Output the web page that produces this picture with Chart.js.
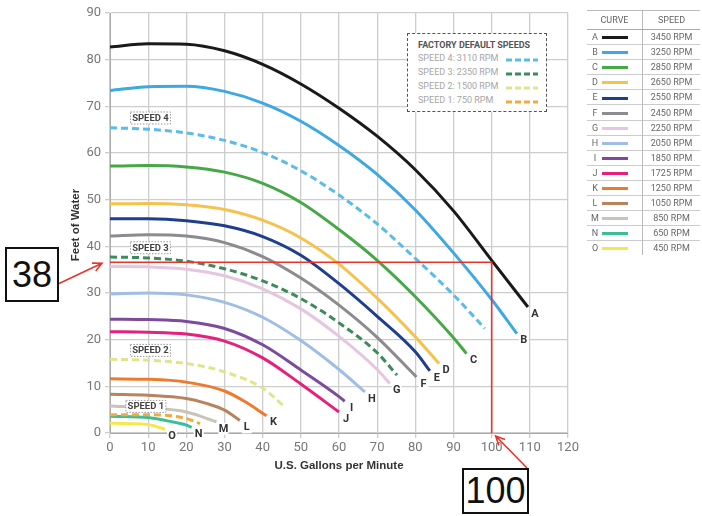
<!DOCTYPE html>
<html>
<head>
<meta charset="utf-8">
<script src="https://cdn.jsdelivr.net/npm/chart.js@4.4.1/dist/chart.umd.min.js"></script>
<style>
body{margin:0;background:#fff;}
#wrap{position:relative;width:702px;height:516px;overflow:hidden;font-family:"Liberation Sans Narrow","Roboto",sans-serif;}
#c{position:absolute;left:0;top:0;}
.bigbox{position:absolute;box-sizing:border-box;border:2px solid #111;background:#fff;font-family:"Liberation Sans",Arial,sans-serif;font-size:36px;color:#111;display:flex;align-items:center;justify-content:center;}
#factory{position:absolute;left:407px;top:33px;width:140px;height:79px;box-sizing:border-box;border:1.5px dashed #555;background:#fff;}
#factory .ttl{position:absolute;left:10px;top:6px;font-size:9px;font-weight:bold;color:#555;white-space:nowrap;}
#factory .row{position:absolute;left:10px;font-size:9px;color:#a5a5a5;white-space:nowrap;}
#factory svg{position:absolute;left:98px;}
#legend{position:absolute;left:587px;top:10px;width:113px;border-collapse:collapse;font-size:9px;color:#666;}
#legend td,#legend th{border-top:1px solid #ccc;height:14.1px;padding:0;font-weight:normal;}
#legend th{height:18px;border-top:1px solid #bbb;border-bottom:1px solid #aaa;}
#legend td.k{width:55px;border-right:1px solid #bbb;text-align:left;}
#legend th.k{border-right:1px solid #bbb;}
#legend td.s{text-align:center;}
#legend .sw{display:inline-block;width:26px;height:3px;vertical-align:middle;margin-left:3px;}
#legend .lt{display:inline-block;width:8px;text-align:center;margin-left:4px;}
</style>
</head>
<body>
<div id="wrap">
<canvas id="c" width="702" height="516"></canvas>
<div id="factory"></div>
<table id="legend"></table>
<div class="bigbox" style="left:5px;top:247px;width:54px;height:55px;">38</div>
<div class="bigbox" style="left:462px;top:468px;width:67px;height:46px;">100</div>
</div>
<script>
// pump curves, [gpm, feet of head]
const curveA = [[0,82.7],[10,83.4],[20,83.3],[30,81.9],[40,79.0],[50,74.8],[60,69.6],[70,63.6],[80,56.4],[90,47.6],[100,37.0],[109.5,27.0]];
const curveB = [[0,73.4],[10,74.2],[20,74.3],[30,73.2],[40,70.7],[50,66.8],[60,61.6],[70,55.4],[80,47.8],[90,38.6],[100,28.6],[106.6,21.3]];
const curveC = [[0,57.2],[10,57.3],[20,57.0],[30,55.9],[40,53.5],[50,49.4],[60,43.6],[70,37.0],[80,29.2],[90,20.4],[93.4,17.0]];
const curveD = [[0,49.1],[10,49.2],[20,48.9],[30,47.9],[40,45.6],[50,41.8],[60,36.2],[70,28.9],[80,20.6],[86.2,14.9]];
const curveE = [[0,45.9],[10,45.9],[20,45.5],[30,44.4],[40,42.1],[50,38.1],[60,32.0],[70,25.0],[80,17.4],[83.8,13.3]];
const curveF = [[0,42.2],[10,42.5],[20,42.2],[30,40.8],[40,37.8],[50,33.2],[60,27.4],[70,20.5],[80.3,12.0]];
const curveG = [[0,35.7],[10,35.6],[20,35.1],[30,33.7],[40,30.9],[50,26.6],[60,20.7],[70,13.6],[73.3,10.6]];
const curveH = [[0,29.8],[10,30.0],[20,29.6],[30,28.0],[40,24.8],[50,19.8],[60,13.6],[66.8,8.8]];
const curveI = [[0,24.4],[10,24.3],[20,23.9],[30,22.4],[40,18.9],[50,13.5],[60,7.8],[61.5,6.8]];
const curveJ = [[0,21.7],[10,21.6],[20,21.2],[30,19.7],[40,16.1],[50,10.5],[60,4.5]];
const curveK = [[0,11.6],[10,11.5],[20,10.9],[30,9.0],[35,6.9],[41,3.7]];
const curveL = [[0,8.3],[10,8.1],[20,7.4],[25,6.4],[30,4.9],[34,2.7]];
const curveM = [[0,5.8],[10,5.4],[20,4.5],[27.9,2.4]];
const curveN = [[0,3.6],[10,3.3],[15,2.6],[20,1.7],[21.4,1.2]];
const curveO = [[0,2.1],[5,2.0],[10,1.8],[14.4,0.8]];
// factory default speeds (dashed)
const speed4 = [[0,65.4],[10,65.1],[20,64.3],[30,62.7],[40,60.1],[50,56.2],[60,51.0],[70,44.8],[80,37.4],[90,29.6],[98.2,22.4]];
const speed3 = [[0,37.7],[10,37.5],[20,36.8],[30,35.2],[40,32.6],[50,28.8],[60,23.6],[70,17.2],[75.2,12.4]];
const speed2 = [[0,15.8],[10,15.6],[20,14.9],[30,13.1],[40,9.6],[45.8,5.6]];
const speed1 = [[0,3.9],[10,3.9],[20,3.1],[23.6,2.0]];

const curveLetters = ['A','B','C','D','E','F','G','H','I','J','K','L','M','N','O'];
const curveSpeeds = ['3450 RPM','3250 RPM','2850 RPM','2650 RPM','2550 RPM','2450 RPM','2250 RPM','2050 RPM','1850 RPM','1725 RPM','1250 RPM','1050 RPM','850 RPM','650 RPM','450 RPM'];
const curveData = [curveA,curveB,curveC,curveD,curveE,curveF,curveG,curveH,curveI,curveJ,curveK,curveL,curveM,curveN,curveO];
const curveColors = ['#1a1a1a','#3ea8e0','#47a847','#f6c24d','#1f3f8e','#8b8b90','#e5c6e0','#9fbee6','#7c4b9d','#e6217b','#ee7b2c','#b9835d','#c9c4ba','#3bbf9a','#f6e84c'];

const speedNames = ['SPEED 4: 3110 RPM','SPEED 3: 2350 RPM','SPEED 2: 1500 RPM','SPEED 1: 750 RPM'];
const speedTags = ['SPEED 4','SPEED 3','SPEED 2','SPEED 1'];
const speedData = [speed4,speed3,speed2,speed1];
const speedColors = ['#5bbbe9','#3d8b5c','#dfe689','#f3aa3c'];
const speedTagAt = [[10.6,67.5],[10.6,39.7],[10.6,17.7],[9.4,5.7]];

// marked duty point
const markFlow = 100;
const markHead = 36.6;

const FONT = '"Liberation Sans Narrow","Roboto",sans-serif';
const toXY = arr => arr.map(p => ({x: p[0], y: p[1]}));

let datasets = [{
    data: toXY([[0,markHead],[markFlow,markHead],[markFlow,0]]),
    borderColor: '#e8352b', borderWidth: 1.6, tension: 0
}];
for(let i in speedData){
    datasets.push({data: toXY(speedData[i]), borderColor: speedColors[i], borderWidth: 3, borderDash: [7,4], cubicInterpolationMode: 'monotone'});
}
for(let i in curveData){
    datasets.push({data: toXY(curveData[i]), borderColor: curveColors[i], borderWidth: 3, cubicInterpolationMode: 'monotone'});
}

function arrow(ctx, x0, y0, x1, y1){
    const a = Math.atan2(y1 - y0, x1 - x0);
    ctx.beginPath();
    ctx.moveTo(x0, y0); ctx.lineTo(x1, y1);
    ctx.moveTo(x1 - 10*Math.cos(a - 0.45), y1 - 10*Math.sin(a - 0.45));
    ctx.lineTo(x1, y1);
    ctx.lineTo(x1 - 10*Math.cos(a + 0.45), y1 - 10*Math.sin(a + 0.45));
    ctx.stroke();
}

const labelPlugin = {
    id: 'labels',
    afterDatasetsDraw(chart){
        const ctx = chart.ctx;
        const x = chart.scales.x, y = chart.scales.y;
        ctx.save();
        // curve letters at the end of each curve
        ctx.font = 'bold 11px ' + FONT;
        ctx.textAlign = 'center';
        ctx.textBaseline = 'middle';
        for(let i in curveData){
            const last = curveData[i][curveData[i].length - 1];
            const px = x.getPixelForValue(last[0]) + 7;
            const py = y.getPixelForValue(last[1]) + 7;
            ctx.fillStyle = '#fff';
            ctx.fillRect(px - 5, py - 6, 10, 12);
            ctx.fillStyle = '#333';
            ctx.fillText(curveLetters[i], px, py);
        }
        // speed tags
        ctx.font = 'bold 9.5px ' + FONT;
        for(let i in speedTags){
            const px = x.getPixelForValue(speedTagAt[i][0]);
            const py = y.getPixelForValue(speedTagAt[i][1]);
            ctx.fillStyle = '#fff';
            ctx.fillRect(px - 20, py - 6, 40, 12);
            ctx.setLineDash([1.5,1.5]);
            ctx.strokeStyle = '#999';
            ctx.lineWidth = 1;
            ctx.strokeRect(px - 20, py - 6, 40, 12);
            ctx.setLineDash([]);
            ctx.fillStyle = '#444';
            ctx.fillText(speedTags[i], px, py + 0.5);
        }
        // axis titles
        ctx.font = 'bold 11.5px "Liberation Sans",Arial,sans-serif';
        ctx.fillStyle = '#333';
        ctx.fillText('U.S. Gallons per Minute', (chart.chartArea.left + chart.chartArea.right)/2, 466);
        ctx.translate(76, 225);
        ctx.rotate(-Math.PI/2);
        ctx.fillText('Feet of Water', 0, 0);
        ctx.restore();
        // red arrows from the value boxes
        ctx.save();
        ctx.strokeStyle = '#e8352b';
        ctx.lineWidth = 1.6;
        arrow(ctx, 58, 284, x.getPixelForValue(0) - 8, y.getPixelForValue(markHead) + 1);
        arrow(ctx, 527, 468, x.getPixelForValue(markFlow) + 4, y.getPixelForValue(0) + 3);
        ctx.restore();
    }
};

new Chart(document.getElementById('c'), {
    type: 'line',
    data: {datasets: datasets},
    options: {
        responsive: false,
        animation: false,
        devicePixelRatio: 1,
        layout: {padding: {top: 13, right: 134, left: 0, bottom: 0}},
        elements: {point: {radius: 0}, line: {fill: false, borderCapStyle: 'butt'}},
        plugins: {legend: {display: false}, tooltip: {enabled: false}},
        scales: {
            x: {
                type: 'linear', min: 0, max: 120,
                ticks: {stepSize: 10, color: '#777', font: {size: 13, family: FONT}, padding: 2},
                grid: {color: '#cdcdcd', lineWidth: 1.3, tickLength: 5},
                border: {color: '#aaa'},
                afterFit: s => { s.height = 83 }
            },
            y: {
                type: 'linear', min: 0, max: 90,
                ticks: {stepSize: 10, color: '#777', font: {size: 13, family: FONT}, padding: 4},
                grid: {color: '#cdcdcd', lineWidth: 1.3, tickLength: 5},
                border: {color: '#aaa'},
                afterFit: s => { s.width = 110 }
            }
        }
    },
    plugins: [labelPlugin]
});

// factory default speeds box
const fac = document.getElementById('factory');
let html = '<div class="ttl">FACTORY DEFAULT SPEEDS</div>';
for(let i in speedNames){
    const top = 19 + i*14;
    html += '<div class="row" style="top:' + top + 'px">' + speedNames[i] + '</div>';
    html += '<svg width="32" height="6" style="top:' + (top + 4) + 'px"><line x1="0" y1="3" x2="32" y2="3" stroke="' + speedColors[i] + '" stroke-width="3" stroke-dasharray="6,3"/></svg>';
}
fac.innerHTML = html;

// curve / speed table
const leg = document.getElementById('legend');
let rows = '<tr><th class="k">CURVE</th><th>SPEED</th></tr>';
for(let i in curveLetters){
    rows += '<tr><td class="k"><span class="lt">' + curveLetters[i] + '</span><span class="sw" style="background:' + curveColors[i] + '"></span></td><td class="s">' + curveSpeeds[i] + '</td></tr>';
}
leg.innerHTML = rows;
</script>
</body>
</html>
